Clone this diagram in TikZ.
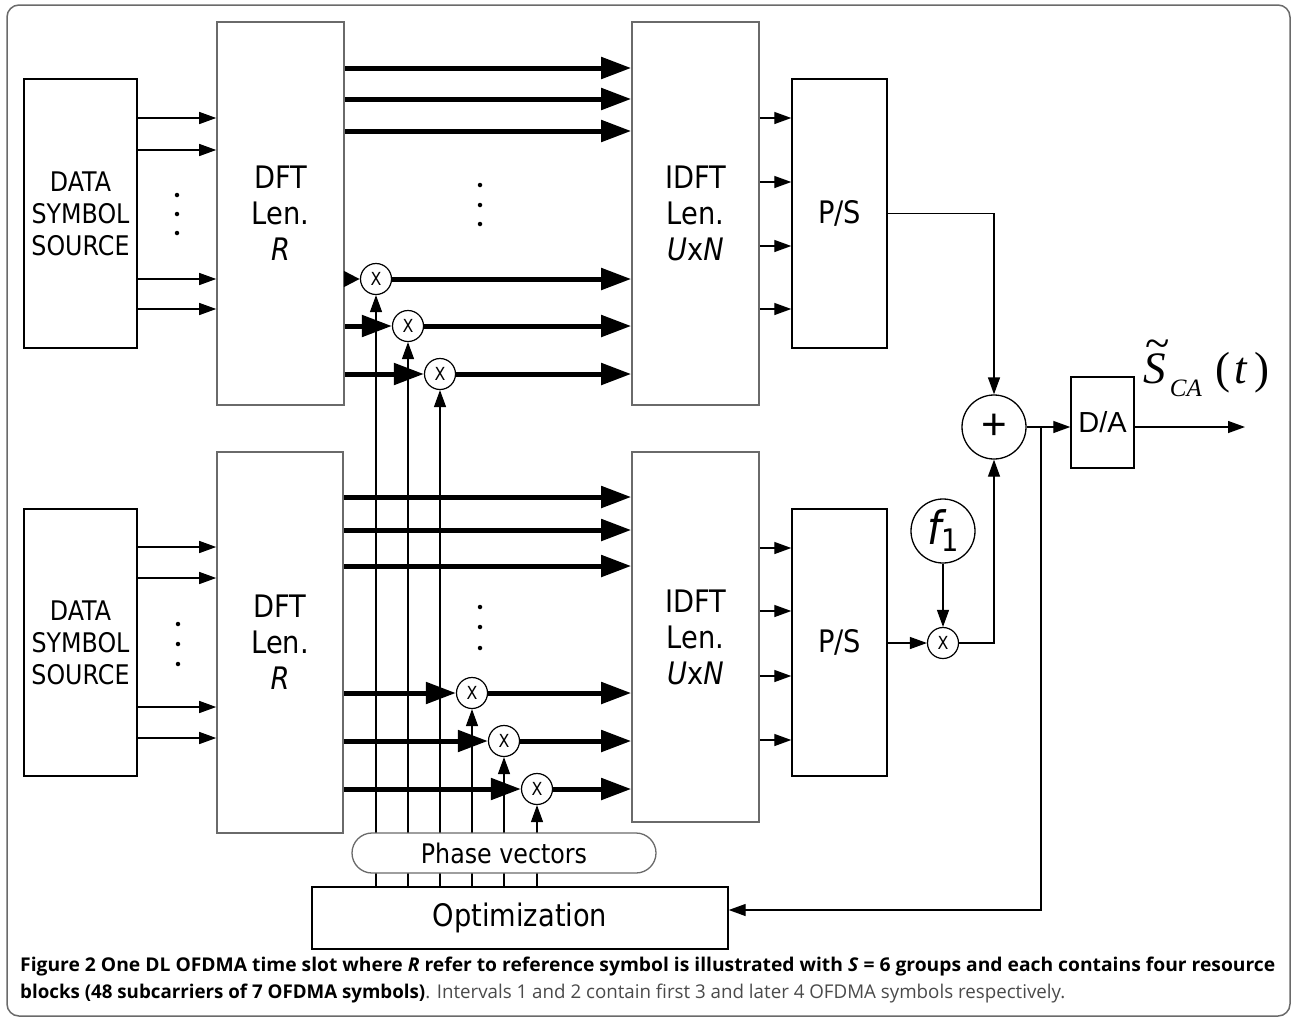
\documentclass[tikz,border=0pt]{standalone}
\usepackage{fontspec}
\usepackage{graphicx}
\usetikzlibrary{arrows.meta,shapes.misc}
\setmainfont{DejaVu Sans}[FakeStretch=0.88]
\newfontfamily\arialf{Liberation Sans}
\newfontfamily\timesf{Liberation Serif}
\newfontfamily\capf{Open Sans}
\definecolor{boxgray}{HTML}{6A6A6A}
\definecolor{capgray}{HTML}{4A4A4A}
\begin{document}
\begin{tikzpicture}[x=1pt,y=-1pt,
  blk/.style={draw=boxgray, line width=1.6pt, fill=white, inner sep=0pt, align=center, font=\fontsize{31}{36}\selectfont},
  src/.style={draw=black, line width=1.4pt, fill=white, inner sep=0pt, align=center, font=\fontsize{27}{32}\selectfont},
  mult/.style={circle, draw=black, line width=1.2pt, minimum size=31pt, inner sep=0pt, fill=white, font=\fontsize{18}{18}\selectfont},
  thinarr/.style={line width=1.3pt, -{Triangle[length=17pt,width=12pt]}},
  thickarr/.style={line width=5pt, -{Triangle[length=30pt,width=21pt]}},
  dotnd/.style={circle, fill=black, inner sep=0pt, minimum size=4.5pt}]
\useasboundingbox (0,0) rectangle (1293,1021);
\draw[boxgray, line width=1.5pt, rounded corners=12pt] (7,5) rectangle (1290,1016);

% ---------- upper branch ----------
\node[src, minimum width=113pt, minimum height=269pt] (src1) at (80.5,213.5) {DATA\\SYMBOL\\SOURCE};
\node[blk, minimum width=127pt, minimum height=383pt] (dft1) at (280.5,213.5) {DFT\\Len.\\\textit{R}};
\node[blk, minimum width=127pt, minimum height=383pt] (idft1) at (695.5,213.5) {IDFT\\Len.\\\textit{U}x\textit{N}};
\node[src, minimum width=95pt, minimum height=269pt, font=\fontsize{31}{36}\selectfont] (ps1) at (839.5,213.5) {P/S};

% ---------- lower branch ----------
\node[src, minimum width=113pt, minimum height=267pt] (src2) at (80.5,642.5) {DATA\\SYMBOL\\SOURCE};
\node[blk, minimum width=126pt, minimum height=381pt] (dft2) at (280,642.5) {DFT\\Len.\\\textit{R}};
\node[blk, minimum width=127pt, minimum height=370pt] (idft2) at (695.5,637) {IDFT\\Len.\\\textit{U}x\textit{N}};
\node[src, minimum width=95pt, minimum height=267pt, font=\fontsize{31}{36}\selectfont] (ps2) at (839.5,642.5) {P/S};

% ---------- multipliers ----------
\node[mult] (c1) at (376,279) {X};
\node[mult] (c2) at (408,326) {X};
\node[mult] (c3) at (440,374) {X};
\node[mult] (c4) at (472,693) {X};
\node[mult] (c5) at (504,741) {X};
\node[mult] (c6) at (537,789) {X};

% ---------- right part ----------
\node[circle, draw=black, line width=1.3pt, minimum size=64pt, inner sep=0pt, font=\arialf\fontsize{44}{44}\selectfont] (plus) at (994,427) {+};
\node[src, minimum width=63pt, minimum height=91pt, font=\arialf\fontsize{29}{32}\selectfont] (da) at (1102.5,422.5) {D/A};
\node[circle, draw=black, line width=1.3pt, minimum size=64pt, inner sep=0pt, font=\fontsize{46}{46}\selectfont] (f1) at (943,531) {\itshape f\upshape\raisebox{-7pt}{\fontsize{31}{31}\selectfont 1}};
\node[mult] (m7) at (943,643) {X};
\node[src, minimum width=416pt, minimum height=62pt, font=\fontsize{31}{36}\selectfont] (opt) at (520,918) {Optimization};
\coordinate (br) at (1041,427);
\coordinate (out) at (1245,427);

\node[anchor=base west, inner sep=0pt, font=\timesf\fontsize{45}{50}\selectfont] (lbl) at (1143,383)
  {\makebox[0pt][l]{\hspace{2pt}\raisebox{25pt}{\~{}}}\textit{S}\raisebox{-13pt}{\fontsize{25}{25}\selectfont\itshape\,CA}\hspace{14pt}(\hspace{4pt}\textit{t}\hspace{6pt})};

% dots
\node[dotnd] (d1) at (177,195) {};
\node[dotnd] (d2) at (177,214) {};
\node[dotnd] (d3) at (177,233) {};
\node[dotnd] (d4) at (178,624) {};
\node[dotnd] (d5) at (178,644) {};
\node[dotnd] (d6) at (178,664) {};
\node[dotnd] (d7) at (480,185) {};
\node[dotnd] (d8) at (480,205) {};
\node[dotnd] (d9) at (480,224) {};
\node[dotnd] (d10) at (480,607) {};
\node[dotnd] (d11) at (480,627) {};
\node[dotnd] (d12) at (480,648) {};

% source -> DFT
\foreach \yy in {118,150,279,309}
  \draw[thinarr] (src1.east |- 0,\yy) -- (dft1.west |- 0,\yy);
\foreach \yy in {547,578,707,738}
  \draw[thinarr] (src2.east |- 0,\yy) -- (dft2.west |- 0,\yy);

% DFT -> IDFT thick
\foreach \yy in {68,99,131}
  \draw[thickarr] (dft1.east |- 0,\yy) -- (idft1.west |- 0,\yy);
\foreach \yy in {497,530,566}
  \draw[thickarr] (dft2.east |- 0,\yy) -- (idft2.west |- 0,\yy);

\draw[line width=5pt, -{Triangle[length=16pt,width=15pt]}] (dft1.east |- c1) -- (c1.west);
\draw[thickarr] (dft1.east |- c2) -- (c2.west);
\draw[thickarr] (dft1.east |- c3) -- (c3.west);
\draw[thickarr] (dft2.east |- c4) -- (c4.west);
\draw[thickarr] (dft2.east |- c5) -- (c5.west);
\draw[thickarr] (dft2.east |- c6) -- (c6.west);
\draw[thickarr] (c1.east) -- (idft1.west |- c1);
\draw[thickarr] (c2.east) -- (idft1.west |- c2);
\draw[thickarr] (c3.east) -- (idft1.west |- c3);
\draw[thickarr] (c4.east) -- (idft2.west |- c4);
\draw[thickarr] (c5.east) -- (idft2.west |- c5);
\draw[thickarr] (c6.east) -- (idft2.west |- c6);

% IDFT -> P/S
\foreach \yy in {118,182,246,309}
  \draw[thinarr] (idft1.east |- 0,\yy) -- (ps1.west |- 0,\yy);
\foreach \yy in {548,611,676,740}
  \draw[thinarr] (idft2.east |- 0,\yy) -- (ps2.west |- 0,\yy);

% optimization -> multipliers
\foreach \cc in {c1,c2,c3,c4,c5,c6}
  \draw[thinarr] (opt.north -| \cc) -- (\cc.south);

% combining
\draw[thinarr] (ps1.east) -- (plus.north |- ps1.east) -- (plus.north);
\draw[thinarr] (ps2.east |- m7) -- (m7.west);
\draw[thinarr] (f1.south) -- (m7.north);
\draw[thinarr] (m7.east) -- (plus.south |- m7.east) -- (plus.south);
\draw[thinarr] (plus.east) -- (da.west |- plus.east);
\draw[thinarr] (da.east |- plus.east) -- (out);
\draw[thinarr] (br) -- (br |- 0,910) -- (opt.east |- 0,910);

% phase vectors (on top of the vertical lines)
\node[draw=boxgray, line width=1.3pt, fill=white, rounded corners=20pt, minimum width=304pt, minimum height=40pt, inner sep=0pt, font=\fontsize{27}{30}\selectfont] (phase) at (504,853) {Phase vectors};

% caption
\node[anchor=base west, inner sep=0pt, text=black] (cap1) at (20,971)
  {\resizebox{1255pt}{14.5pt}{\capf\bfseries Figure 2 One DL OFDMA time slot where \textit{R} refer to reference symbol is illustrated with \textit{S} = 6 groups and each contains four resource}};
\node[anchor=base west, inner sep=0pt, text=black] (cap2) at (20,998)
  {\resizebox{1045pt}{14.5pt}{\capf{\bfseries blocks (48 subcarriers of 7 OFDMA symbols)}\textcolor{capgray}{. Intervals 1 and 2 contain first 3 and later 4 OFDMA symbols respectively.}}};
\end{tikzpicture}
\end{document}
